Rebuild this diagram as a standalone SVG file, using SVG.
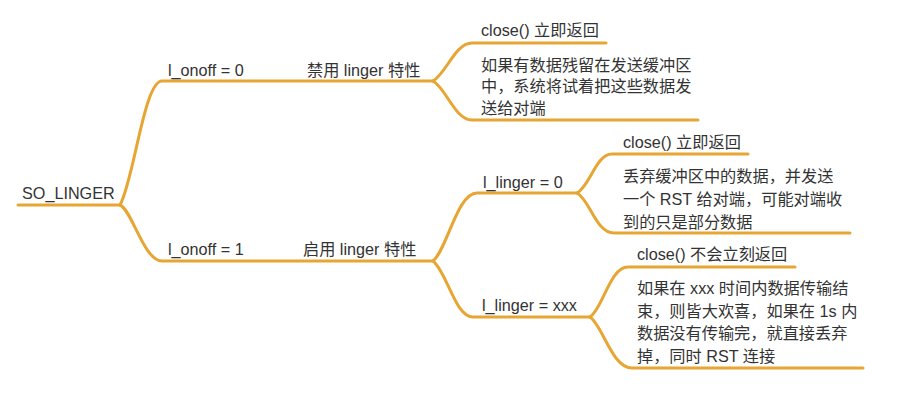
<svg xmlns="http://www.w3.org/2000/svg" width="901" height="408" viewBox="0 0 901 408">
<style>
.t{font-family:"Liberation Sans","Noto Sans CJK SC",sans-serif;font-size:16.2px;fill:#333}
.c{fill:none;stroke:#E7A633;stroke-width:3;stroke-linecap:round;stroke-linejoin:round}
</style>
<rect width="901" height="408" fill="#fff"/>
<g id="connectors">
<path class="c" d="M18,205 H120"/>
<path class="c" d="M120,205 C134,180 144,81 162,81 H433"/>
<path class="c" d="M120,205 C132,210 144,261 162,261 H433"/>
<path class="c" d="M433,81 C446,74 455,43 472,43 H606"/>
<path class="c" d="M433,81 C446,88 455,120 472,120 H698"/>
<path class="c" d="M433,261 C447,250 457,193 477,193 H577"/>
<path class="c" d="M433,261 C447,272 455,317 473,317 H590"/>
<path class="c" d="M577,193 C590,186 596,154 612,154 H748"/>
<path class="c" d="M577,193 C590,200 596,233 614,233 H850"/>
<path class="c" d="M590,317 C603,308 610,267 628,267 H795"/>
<path class="c" d="M590,317 C603,326 612,368 632,368 H863"/>
</g>
<g id="root"><text class="t" x="22" y="199">SO_LINGER</text></g>
<g id="onoff0"><text class="t" x="168" y="76">l_onoff = 0</text></g>
<g id="disable"><text class="t" x="307" y="76">禁用 linger 特性</text></g>
<g id="close1"><text class="t" x="481" y="36">close() 立即返回</text></g>
<g id="desc1"><text class="t" x="481" y="70.5">如果有数据残留在发送缓冲区<tspan x="481" y="92.2">中，系统将试着把这些数据发</tspan><tspan x="481" y="113.9">送给对端</tspan></text></g>
<g id="onoff1"><text class="t" x="168" y="255">l_onoff = 1</text></g>
<g id="enable"><text class="t" x="303" y="255">启用 linger 特性</text></g>
<g id="linger0"><text class="t" x="483" y="187.5">l_linger = 0</text></g>
<g id="close2"><text class="t" x="623" y="148">close() 立即返回</text></g>
<g id="desc2"><text class="t" x="623" y="182">丢弃缓冲区中的数据，并发送<tspan x="623" y="205">一个 RST 给对端，可能对端收</tspan><tspan x="623" y="227.5">到的只是部分数据</tspan></text></g>
<g id="lingerxxx"><text class="t" x="482" y="311">l_linger = xxx</text></g>
<g id="close3"><text class="t" x="637" y="260">close() 不会立刻返回</text></g>
<g id="desc3"><text class="t" x="637" y="294">如果在 xxx 时间内数据传输结<tspan x="637" y="316.7">束，则皆大欢喜，如果在 1s 内</tspan><tspan x="637" y="339.4">数据没有传输完，就直接丢弃</tspan><tspan x="637" y="362">掉，同时 RST 连接</tspan></text></g>
</svg>
